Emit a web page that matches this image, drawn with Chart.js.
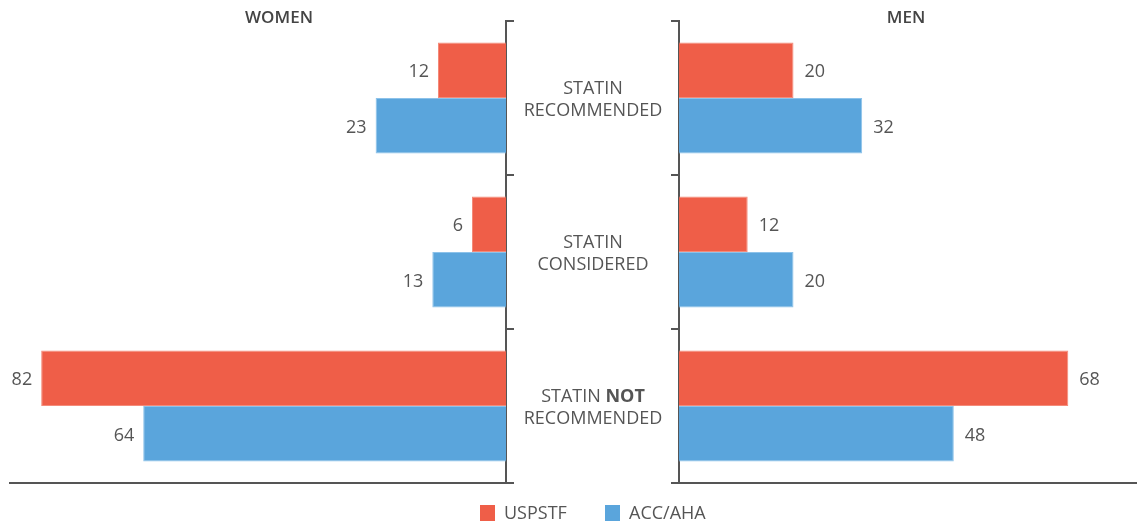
<!DOCTYPE html>
<html>
<head>
<meta charset="utf-8">
<script src="https://cdn.jsdelivr.net/npm/chart.js@4.4.1/dist/chart.umd.min.js"></script>
<style>
  html, body { margin: 0; padding: 0; background: #fff; }
  #wrap { position: relative; width: 1137px; height: 527px; }
  #wrap canvas { position: absolute; left: 0; top: 0; }
</style>
</head>
<body>
<div id="wrap">
  <canvas id="womenchart" width="1137" height="527"></canvas>
  <canvas id="menchart" width="1137" height="527"></canvas>
</div>
<script>
// groups, top to bottom
var groups = ['rec', 'cons', 'notrec'];
var groupLines = [
    [['STATIN', false]],
    [['STATIN', false]],
    [['STATIN ', false], ['NOT', true]]
];
var groupLine2 = ['RECOMMENDED', 'CONSIDERED', 'RECOMMENDED'];

var seriesNames = ['USPSTF', 'ACC/AHA'];
var seriesColors = ['#EF5E48', '#5AA5DC'];

var womenUSPSTF = [12, 6, 82];
var womenACC = [23, 13, 64];
var menUSPSTF = [20, 12, 68];
var menACC = [32, 20, 48];

var textColor = '#555';
var axisColor = '#555';
var fontFam = '"Open Sans", sans-serif';

// draws the number next to the end of each bar
var barValues = {
    id: 'barValues',
    afterDatasetsDraw: function(chart, args, opts) {
        var c = chart.ctx;
        c.save();
        c.font = '18px ' + fontFam;
        c.fillStyle = textColor;
        c.textBaseline = 'middle';
        chart.data.datasets.forEach(function(ds, i) {
            chart.getDatasetMeta(i).data.forEach(function(bar, j) {
                if (opts.side == 'left') {
                    c.textAlign = 'right';
                    c.fillText(ds.data[j], bar.x - 9, bar.y + 2);
                } else {
                    c.textAlign = 'left';
                    c.fillText(ds.data[j], bar.x + 11, bar.y + 2);
                }
            });
        });
        c.restore();
    }
};

// titles, middle labels and the legend (drawn once, on the women chart)
var extras = {
    id: 'extras',
    afterDraw: function(chart) {
        var c = chart.ctx;
        var yScale = chart.scales.y;
        var mid = 593;
        c.save();
        c.fillStyle = '#444';
        c.textBaseline = 'middle';
        c.textAlign = 'center';
        c.font = '600 17px ' + fontFam;
        c.fillText('WOMEN', 279, 18);
        c.fillText('MEN', 906, 18);

        groups.forEach(function(g, i) {
            var y = yScale.getPixelForValue(i);
            var parts = groupLines[i];
            var total = 0;
            parts.forEach(function(p) {
                c.font = (p[1] ? '700 ' : '400 ') + '18px ' + fontFam;
                total += c.measureText(p[0]).width;
            });
            var x = mid - total / 2;
            c.textAlign = 'left';
            c.fillStyle = textColor;
            parts.forEach(function(p) {
                c.font = (p[1] ? '700 ' : '400 ') + '18px ' + fontFam;
                c.fillText(p[0], x, y - 9);
                x += c.measureText(p[0]).width;
            });
            c.textAlign = 'center';
            c.font = '400 18px ' + fontFam;
            c.fillText(groupLine2[i], mid, y + 13);
        });

        // legend
        c.font = '400 18px ' + fontFam;
        var lx = [480, 605];
        seriesNames.forEach(function(n, i) {
            c.fillStyle = seriesColors[i];
            c.fillRect(lx[i], 505, 15, 16);
            c.fillStyle = textColor;
            c.textAlign = 'left';
            c.fillText(n, lx[i] + 24, 514);
        });
        c.restore();
    }
};

function makeChart(id, d1, d2, side) {
    var left = side == 'left';
    return new Chart(document.getElementById(id).getContext('2d'), {
        type: 'bar',
        data: {
            labels: groups,
            datasets: [{
                label: seriesNames[0],
                data: d1,
                backgroundColor: seriesColors[0],
                borderColor: '#F48B7A',
                borderWidth: 1
            }, {
                label: seriesNames[1],
                data: d2,
                backgroundColor: seriesColors[1],
                borderColor: '#8CC2EA',
                borderWidth: 1
            }]
        },
        options: {
            indexAxis: 'y',
            responsive: false,
            animation: false,
            events: [],
            categoryPercentage: 0.72,
            barPercentage: 1,
            layout: {
                padding: left ? {left: 10, right: 623, top: 21, bottom: 44}
                               : {left: 671, right: 0, top: 21, bottom: 44}
            },
            plugins: {
                legend: { display: false },
                tooltip: { enabled: false },
                barValues: { side: side }
            },
            scales: {
                x: {
                    reverse: left,
                    min: 0,
                    max: left ? 87.5 : 80,
                    ticks: { display: false },
                    grid: { display: false, drawTicks: false },
                    border: { display: true, color: axisColor, width: 2 },
                    afterFit: function(s) { s.height = 0; }
                },
                y: {
                    position: left ? 'right' : 'left',
                    ticks: { display: false },
                    grid: {
                        drawOnChartArea: false,
                        drawTicks: true,
                        tickLength: 8,
                        color: axisColor,
                        lineWidth: 2
                    },
                    border: { display: true, color: axisColor, width: 2 },
                    afterFit: function(s) { s.width = 8; }
                }
            }
        },
        plugins: left ? [barValues, extras] : [barValues]
    });
}

var womenchart = makeChart('womenchart', womenUSPSTF, womenACC, 'left');
var menchart = makeChart('menchart', menUSPSTF, menACC, 'right');
</script>
</body>
</html>
